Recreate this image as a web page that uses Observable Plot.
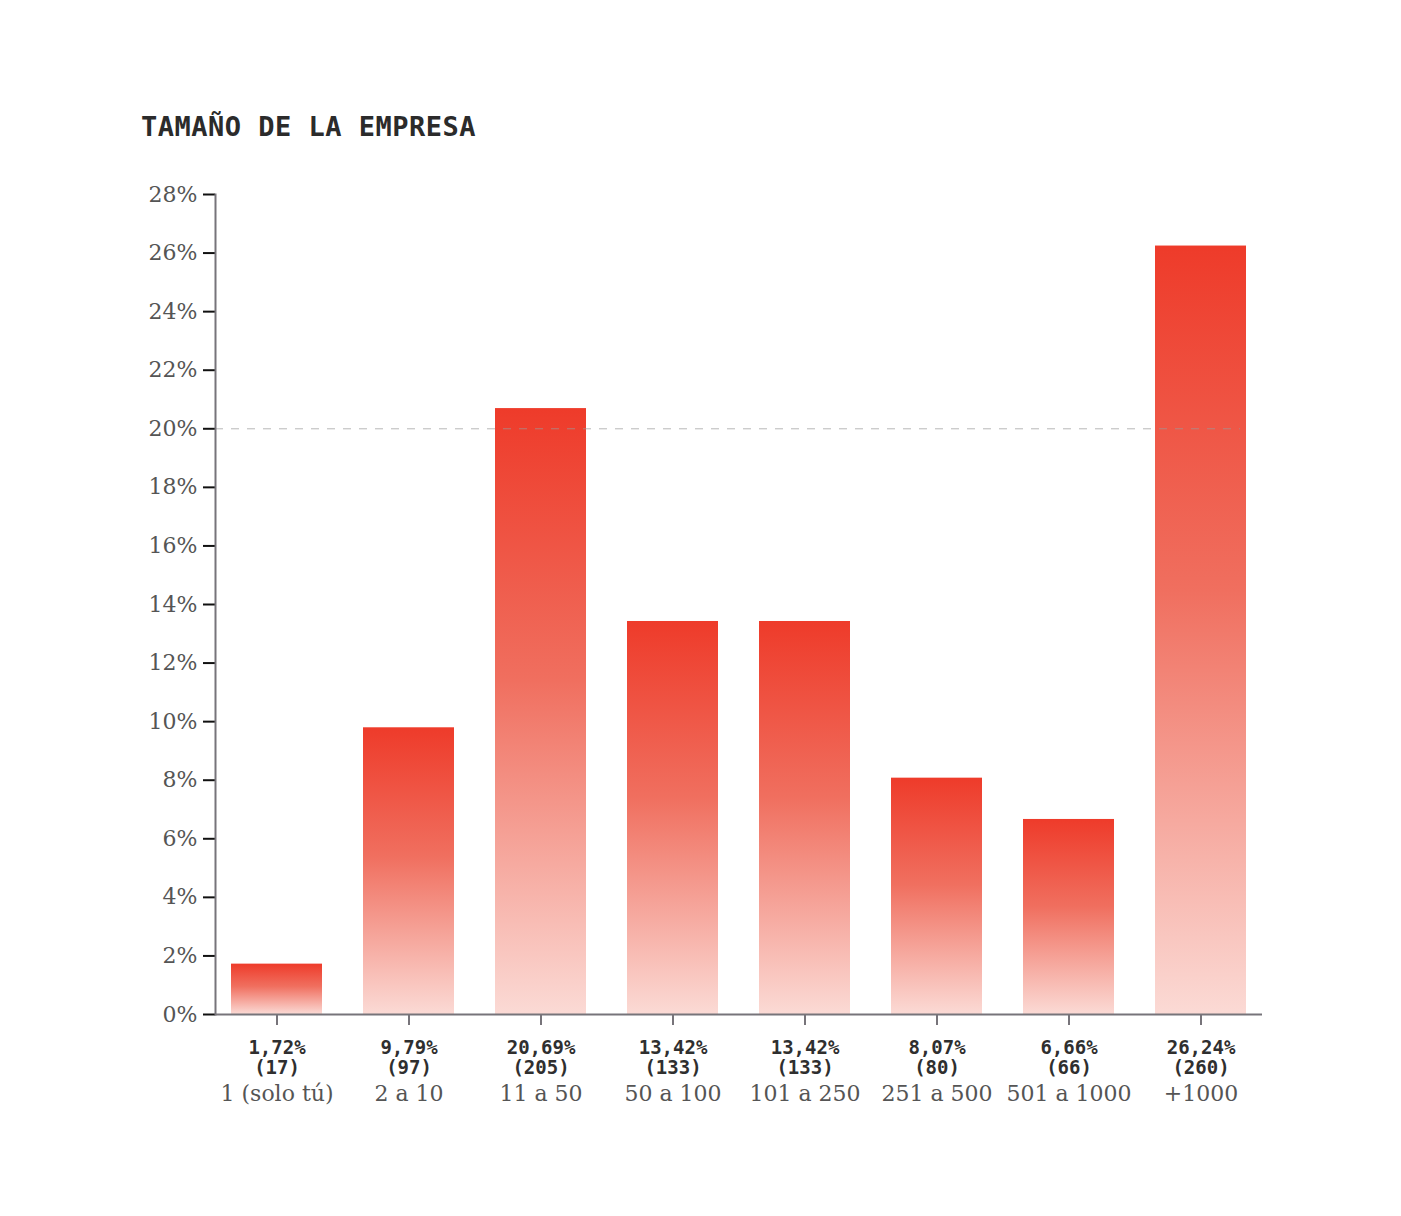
<!DOCTYPE html>
<html>
<head>
<meta charset="utf-8">
<script src="https://cdn.jsdelivr.net/npm/d3@7"></script>
<script src="https://cdn.jsdelivr.net/npm/@observablehq/plot@0.6"></script>
<style>
  body { margin: 0; background: #fff; }
  #title { margin: 0; padding: 110px 0 0 141px; font: bold 27px/34px "DejaVu Sans Mono", monospace; color: #2b2b2b; letter-spacing: 0.5px; }
  #chart svg { display: block; }
</style>
</head>
<body>
<div id="title">TAMAÑO DE LA EMPRESA</div>
<div id="chart"></div>
<script>
const categories = ["1 (solo tú)", "2 a 10", "11 a 50", "50 a 100", "101 a 250", "251 a 500", "501 a 1000", "+1000"];
const percentages = [1.72, 9.79, 20.69, 13.42, 13.42, 8.07, 6.66, 26.24];
const counts = [17, 97, 205, 133, 133, 80, 66, 260];
const yTicks = [0, 2, 4, 6, 8, 10, 12, 14, 16, 18, 20, 22, 24, 26, 28];

const data = categories.map((c, i) => ({cat: c, pct: percentages[i], n: counts[i]}));
const fmt = v => v.toFixed(2).replace(".", ",") + "%";

const chart = Plot.plot({
  width: 1401,
  height: 1072,
  marginLeft: 215,
  marginRight: 139,
  marginTop: 50,
  marginBottom: 202,
  style: {background: "#fff", overflow: "visible"},
  x: {domain: categories, paddingInner: 0.312, paddingOuter: 0.113, axis: null},
  y: {domain: [0, 28], axis: null},
  marks: [
    Plot.barY(data, {x: "cat", y: "pct", fill: "url(#barGrad)"}),
    Plot.ruleY([20], {stroke: "#9a9a9a", strokeOpacity: 0.7, strokeDasharray: "8,8", strokeWidth: 1, insetRight: 22}),
    Plot.axisY({ticks: yTicks, tickSize: 12, tickPadding: 6, tickFormat: d => d + "%",
      stroke: "#111", strokeWidth: 2, fill: "#555", fontSize: 22, fontFamily: "DejaVu Serif, serif", label: null}),
    Plot.frame({anchor: "left", stroke: "#77747a", strokeWidth: 2}),
    Plot.axisX({tickSize: 11, tickFormat: () => "", stroke: "#77747a", strokeWidth: 2, label: null}),
    Plot.ruleY([0], {stroke: "#77747a", strokeWidth: 2}),
    Plot.text(data, {x: "cat", y: 0, text: d => fmt(d.pct), lineAnchor: "top", dy: 26,
      fontSize: 19, fontWeight: "bold", fontFamily: "DejaVu Sans Mono, monospace", fill: "#2f2f2f"}),
    Plot.text(data, {x: "cat", y: 0, text: d => "(" + d.n + ")", lineAnchor: "top", dy: 46,
      fontSize: 19, fontWeight: "bold", fontFamily: "DejaVu Sans Mono, monospace", fill: "#2f2f2f"}),
    Plot.text(data, {x: "cat", y: 0, text: "cat", lineAnchor: "top", dy: 71,
      fontSize: 22, fontFamily: "DejaVu Serif, serif", fill: "#555"})
  ]
});

const svg = d3.select(chart);
const defs = svg.insert("defs", ":first-child");
const grad = defs.append("linearGradient").attr("id", "barGrad").attr("x1", 0).attr("y1", 0).attr("x2", 0).attr("y2", 1);
grad.append("stop").attr("offset", "0%").attr("stop-color", "#ee3b2a");
grad.append("stop").attr("offset", "45%").attr("stop-color", "#f06f5f");
grad.append("stop").attr("offset", "100%").attr("stop-color", "#fbdad5");

document.getElementById("chart").appendChild(chart);
</script>
</body>
</html>
